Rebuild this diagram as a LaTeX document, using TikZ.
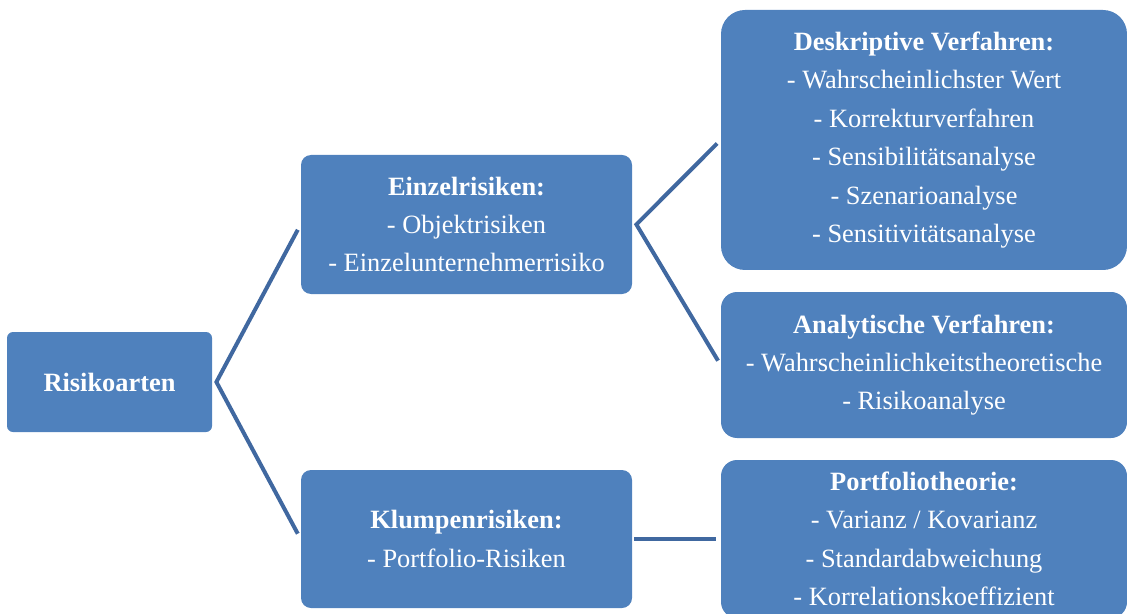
\documentclass[tikz,border=0pt]{standalone}
\usepackage{fontspec}
\setmainfont{Liberation Serif}
\definecolor{boxblue}{RGB}{79,129,189}
\definecolor{linkblue}{RGB}{64,104,160}

\begin{document}
\begin{tikzpicture}[x=0.5pt, y=-0.5pt,
  box/.style={fill=boxblue, text=white, align=center, inner sep=0pt,
    font=\fontsize{13.2}{19.2}\selectfont},
  conn/.style={draw=linkblue, line width=2pt}]
  \path[use as bounding box, clip] (0,0) rectangle (1127,614);
  % boxes
  \node[box, rounded corners=3pt, minimum width=102.5pt, minimum height=50pt]
    (risk) at (109.5,382) {\textbf{Risikoarten}};
  \node[box, rounded corners=5pt, minimum width=165.5pt, minimum height=69.5pt]
    (einzel) at (466.5,224.5) {\textbf{Einzelrisiken:}\\- Objektrisiken\\- Einzelunternehmerrisiko};
  \node[box, rounded corners=5pt, minimum width=165.5pt, minimum height=69pt]
    (klumpen) at (466.5,539) {\textbf{Klumpenrisiken:}\\- Portfolio-Risiken};
  \node[box, rounded corners=12pt, minimum width=203pt, minimum height=130pt]
    (deskr) at (924,140) {\textbf{Deskriptive Verfahren:}\\- Wahrscheinlichster Wert\\- Korrekturverfahren\\- Sensibilitätsanalyse\\- Szenarioanalyse\\- Sensitivitätsanalyse};
  \node[box, rounded corners=8pt, minimum width=203pt, minimum height=73pt]
    (analyt) at (924,365) {\textbf{Analytische Verfahren:}\\- Wahrscheinlichkeitstheoretische\\- Risikoanalyse};
  \node[box, rounded corners=8pt, minimum width=203pt, minimum height=79pt]
    (portf) at (924,539) {\textbf{Portfoliotheorie:}\\- Varianz / Kovarianz\\- Standardabweichung\\- Korrelationskoeffizient};
  % connectors
  \draw[conn, shorten <=3pt, shorten >=3pt]
    (einzel.west) -- ([xshift=2pt]risk.east) -- (klumpen.west);
  \draw[conn, shorten <=2.5pt, shorten >=2.5pt]
    (deskr.west) -- ([xshift=2pt]einzel.east) -- (analyt.west);
  \draw[conn, shorten >=2.5pt] ([xshift=1pt]klumpen.east) -- (portf.west);
\end{tikzpicture}
\end{document}
